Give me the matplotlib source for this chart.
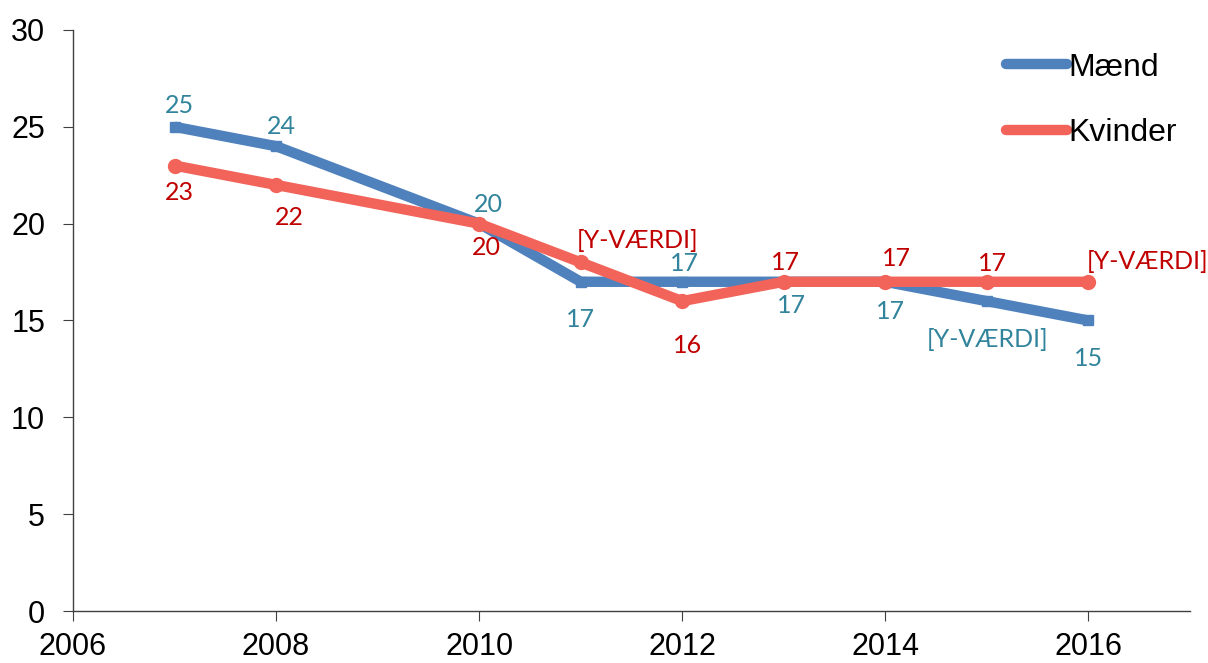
import numpy as np
import matplotlib.pyplot as plt

# data
years = [2007, 2008, 2010, 2011, 2012, 2013, 2014, 2015, 2016]
maend = [25, 24, 20, 17, 17, 17, 17, 16, 15]
kvinder = [23, 22, 20, 18, 16, 17, 17, 17, 17]
maend_labels = ['25', '24', '20', '17', '17', '17', '17', '[Y-VÆRDI]', '15']
kvinder_labels = ['23', '22', '20', '[Y-VÆRDI]', '16', '17', '17', '17', '[Y-VÆRDI]']

# label placement (pixel offsets, alignment)
maend_pos = [(5, 21, 'center'), (5, 20, 'center'), (9, 19, 'center'), (0, -38, 'center'),
             (2, 18, 'center'), (8, -24, 'center'), (5, -30, 'center'), (1, -38, 'center'),
             (0, -38, 'center')]
kvinder_pos = [(5, -27, 'center'), (13, -33, 'center'), (7, -24, 'center'), (-4, 22, 'left'),
               (5, -44, 'center'), (2, 19, 'center'), (11, 23, 'center'), (6, 18, 'center'),
               (-2, 20, 'left')]

blue = '#4F81BD'
red = '#F2645A'
teal = '#31849B'
darkred = '#C00000'

plt.rcParams['font.family'] = ['Liberation Sans', 'DejaVu Sans']

fig = plt.figure(figsize=(12.08, 6.63), dpi=100)
ax = fig.add_axes([0.0604, 0.0784, 0.9246, 0.8764])

ax.plot(years, maend, color=blue, lw=7.5, marker='s', markersize=7,
        solid_capstyle='butt', label='Mænd')
ax.plot(years, kvinder, color=red, lw=7.5, marker='o', markersize=10,
        solid_capstyle='butt', label='Kvinder')

for x, y, t, (dx, dy, ha) in zip(years, maend, maend_labels, maend_pos):
    ax.annotate(t, (x, y), xytext=(dx, dy), textcoords='offset pixels',
                ha=ha, va='center', color=teal, fontsize=18, family=['Lato', 'DejaVu Sans'])
for x, y, t, (dx, dy, ha) in zip(years, kvinder, kvinder_labels, kvinder_pos):
    ax.annotate(t, (x, y), xytext=(dx, dy), textcoords='offset pixels',
                ha=ha, va='center', color=darkred, fontsize=18, family=['Lato', 'DejaVu Sans'])

ax.set_xlim(2006, 2017)
ax.set_ylim(0, 30)
ax.set_xticks([2006, 2008, 2010, 2012, 2014, 2016])
ax.set_yticks(np.arange(0, 31, 5))
for s in ['top', 'right']:
    ax.spines[s].set_visible(False)
for s in ['left', 'bottom']:
    ax.spines[s].set_color('#404040')
    ax.spines[s].set_linewidth(1)
ax.tick_params(axis='both', labelsize=22, length=7, color='#404040', direction='out')
ax.tick_params(axis='y', pad=13)
ax.tick_params(axis='x', pad=8)

leg = ax.legend(loc='upper right', frameon=False, fontsize=23, handlelength=1.9,
                handletextpad=0.05, labelspacing=1.12, borderaxespad=0,
                bbox_to_anchor=(1.0, 0.983))
for h in leg.legend_handles:
    h.set_solid_capstyle('round')
    h.set_markersize(5)

fig.savefig('out.png', dpi=100)
